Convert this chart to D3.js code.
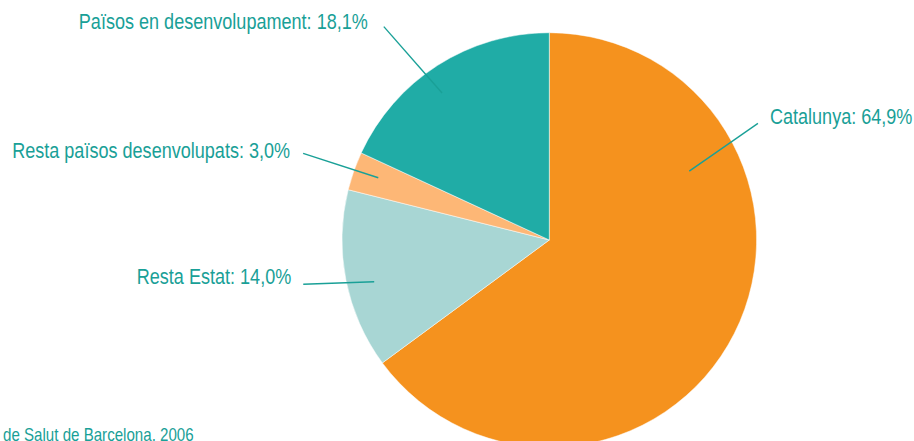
<!DOCTYPE html>
<html>
<head>
<meta charset="utf-8">
<style>
  body { margin: 0; background: #fff; }
  svg { display: block; }
  .label { font-family: "Liberation Sans", Arial, sans-serif; font-size: 21.5px; fill: #19a097; }
  .leader { fill: none; stroke: #19a097; stroke-width: 1.4px; }
  .source { font-family: "Liberation Sans", Arial, sans-serif; font-size: 18px; fill: #19a097; }
</style>
</head>
<body>
<svg width="914" height="441"></svg>
<script src="https://cdn.jsdelivr.net/npm/d3@7"></script>
<script>
// dades
var categories = ["Catalunya", "Resta Estat", "Resta països desenvolupats", "Països en desenvolupament"];
var values = [64.9, 14.0, 3.0, 18.1];
var colors = ["#f5921e", "#a8d6d4", "#fdb776", "#20aca6"];
var sourceText = "de Salut de Barcelona, 2006";

// posicio de les etiquetes (angle en graus des de dalt, radi en px des del centre)
var labelLayout = [
  {inA: 63.8,  inR: 156, outA: 60.8,  outR: 239, dx: 12,  dy: 1,   anchor: "start"},
  {inA: 256.6, inR: 180, outA: 259.8, outR: 250, dx: -12, dy: 0,   anchor: "end"},
  {inA: 290.0, inR: 182, outA: 289.4, outR: 261, dx: -13, dy: 4.5, anchor: "end"},
  {inA: 323.9, inR: 182, outA: 322.2, outR: 270, dx: -16, dy: 2,   anchor: "end"}
];

var svg = d3.select("svg"),
    cx = 549.3, cy = 240, radius = 207.3,
    squeeze = 0.84; // la lletra original es estreta

var data = categories.map(function(c, i) { return {name: c, value: values[i], color: colors[i]}; });

var pie = d3.pie().sort(null).value(function(d) { return d.value; });
var arc = d3.arc().innerRadius(0).outerRadius(radius);

var g = svg.append("g").attr("transform", "translate(" + cx + "," + cy + ")");

g.selectAll("path.slice")
  .data(pie(data))
  .enter()
  .append("path")
  .attr("class", "slice")
  .attr("d", arc)
  .attr("fill", function(d) { return d.data.color; })
  .attr("stroke", "#fff")
  .attr("stroke-width", 0.5);

function polar(deg, r) {
  var a = deg * Math.PI / 180;
  return [r * Math.sin(a), -r * Math.cos(a)];
}

var fmt = function(v) { return d3.format(".1f")(v).replace(".", ","); };

var labels = g.selectAll("g.lbl")
  .data(pie(data))
  .enter()
  .append("g")
  .attr("class", "lbl");

labels.append("line")
  .attr("class", "leader")
  .attr("x1", function(d, i) { return polar(labelLayout[i].outA, labelLayout[i].outR)[0]; })
  .attr("y1", function(d, i) { return polar(labelLayout[i].outA, labelLayout[i].outR)[1]; })
  .attr("x2", function(d, i) { return polar(labelLayout[i].inA, labelLayout[i].inR)[0]; })
  .attr("y2", function(d, i) { return polar(labelLayout[i].inA, labelLayout[i].inR)[1]; });

labels.append("g")
  .attr("transform", function(d, i) {
    var L = labelLayout[i], p = polar(L.outA, L.outR);
    return "translate(" + (p[0] + L.dx) + "," + (p[1] + L.dy) + ") scale(" + squeeze + ",1)";
  })
  .append("text")
  .attr("class", "label")
  .attr("text-anchor", function(d, i) { return labelLayout[i].anchor; })
  .text(function(d) { return d.data.name + ": " + fmt(d.data.value) + "%"; });

svg.append("g")
  .attr("transform", "translate(3,441) scale(" + squeeze + ",1)")
  .append("text")
  .attr("class", "source")
  .text(sourceText);
</script>
</body>
</html>
